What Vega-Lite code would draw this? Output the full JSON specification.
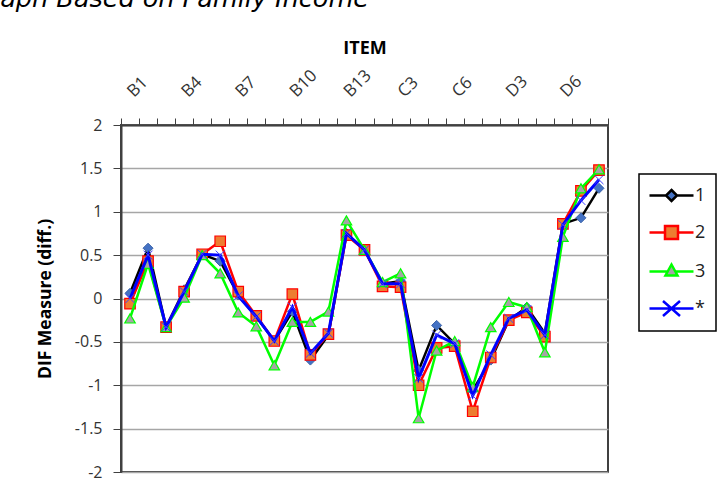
{
  "$schema": "https://vega.github.io/schema/vega-lite/v6.json",
  "autosize": {"type": "none"},
  "padding": {"left": 121, "top": 125, "right": 110, "bottom": 16},
  "width": 487,
  "height": 347,
  "background": "white",
  "title": {"text": "Graph Based on Family Income", "anchor": "start", "frame": "group", "font": "DejaVu Sans", "fontStyle": "italic", "fontWeight": "normal", "fontSize": 25.5, "color": "#000000", "dx": -151, "dy": -27, "offset": 0},
  "config": {
    "font": "Open Sans",
    "view": {"stroke": "#404040", "strokeWidth": 2},
    "axis": {"labelColor": "#333333", "titleColor": "#000000", "domainColor": "#404040", "domainWidth": 2, "tickColor": "#404040", "tickWidth": 1}
  },
  "data": {"values": [
    {"item":"B1","series":"1","value":0.06},{"item":"B2","series":"1","value":0.58},{"item":"B3","series":"1","value":-0.33},{"item":"B4","series":"1","value":0.1},{"item":"B5","series":"1","value":0.51},{"item":"B6","series":"1","value":0.43},{"item":"B7","series":"1","value":0.04},{"item":"B8","series":"1","value":-0.21},{"item":"B9","series":"1","value":-0.49},{"item":"B10","series":"1","value":-0.15},{"item":"B11","series":"1","value":-0.71},{"item":"B12","series":"1","value":-0.42},{"item":"B13","series":"1","value":0.75},{"item":"C1","series":"1","value":0.56},{"item":"C2","series":"1","value":0.17},{"item":"C3","series":"1","value":0.2},{"item":"C4","series":"1","value":-0.83},{"item":"C5","series":"1","value":-0.31},{"item":"C6","series":"1","value":-0.52},{"item":"D1","series":"1","value":-1.06},{"item":"D2","series":"1","value":-0.71},{"item":"D3","series":"1","value":-0.25},{"item":"D4","series":"1","value":-0.1},{"item":"D5","series":"1","value":-0.4},{"item":"D6","series":"1","value":0.86},{"item":"D7","series":"1","value":0.93},{"item":"D8","series":"1","value":1.27},
    {"item":"B1","series":"2","value":-0.06},{"item":"B2","series":"2","value":0.43},{"item":"B3","series":"2","value":-0.33},{"item":"B4","series":"2","value":0.08},{"item":"B5","series":"2","value":0.51},{"item":"B6","series":"2","value":0.66},{"item":"B7","series":"2","value":0.08},{"item":"B8","series":"2","value":-0.2},{"item":"B9","series":"2","value":-0.49},{"item":"B10","series":"2","value":0.05},{"item":"B11","series":"2","value":-0.65},{"item":"B12","series":"2","value":-0.41},{"item":"B13","series":"2","value":0.73},{"item":"C1","series":"2","value":0.56},{"item":"C2","series":"2","value":0.14},{"item":"C3","series":"2","value":0.13},{"item":"C4","series":"2","value":-1.0},{"item":"C5","series":"2","value":-0.57},{"item":"C6","series":"2","value":-0.55},{"item":"D1","series":"2","value":-1.3},{"item":"D2","series":"2","value":-0.68},{"item":"D3","series":"2","value":-0.25},{"item":"D4","series":"2","value":-0.16},{"item":"D5","series":"2","value":-0.44},{"item":"D6","series":"2","value":0.86},{"item":"D7","series":"2","value":1.24},{"item":"D8","series":"2","value":1.48},
    {"item":"B1","series":"3","value":-0.23},{"item":"B2","series":"3","value":0.4},{"item":"B3","series":"3","value":-0.33},{"item":"B4","series":"3","value":0.01},{"item":"B5","series":"3","value":0.5},{"item":"B6","series":"3","value":0.29},{"item":"B7","series":"3","value":-0.16},{"item":"B8","series":"3","value":-0.32},{"item":"B9","series":"3","value":-0.77},{"item":"B10","series":"3","value":-0.27},{"item":"B11","series":"3","value":-0.27},{"item":"B12","series":"3","value":-0.15},{"item":"B13","series":"3","value":0.9},{"item":"C1","series":"3","value":0.56},{"item":"C2","series":"3","value":0.19},{"item":"C3","series":"3","value":0.29},{"item":"C4","series":"3","value":-1.38},{"item":"C5","series":"3","value":-0.6},{"item":"C6","series":"3","value":-0.49},{"item":"D1","series":"3","value":-1.02},{"item":"D2","series":"3","value":-0.33},{"item":"D3","series":"3","value":-0.04},{"item":"D4","series":"3","value":-0.1},{"item":"D5","series":"3","value":-0.62},{"item":"D6","series":"3","value":0.71},{"item":"D7","series":"3","value":1.27},{"item":"D8","series":"3","value":1.49},
    {"item":"B1","series":"*","value":0.0},{"item":"B2","series":"*","value":0.5},{"item":"B3","series":"*","value":-0.33},{"item":"B4","series":"*","value":0.08},{"item":"B5","series":"*","value":0.51},{"item":"B6","series":"*","value":0.5},{"item":"B7","series":"*","value":0.03},{"item":"B8","series":"*","value":-0.21},{"item":"B9","series":"*","value":-0.49},{"item":"B10","series":"*","value":-0.1},{"item":"B11","series":"*","value":-0.63},{"item":"B12","series":"*","value":-0.4},{"item":"B13","series":"*","value":0.75},{"item":"C1","series":"*","value":0.56},{"item":"C2","series":"*","value":0.17},{"item":"C3","series":"*","value":0.17},{"item":"C4","series":"*","value":-0.92},{"item":"C5","series":"*","value":-0.42},{"item":"C6","series":"*","value":-0.52},{"item":"D1","series":"*","value":-1.12},{"item":"D2","series":"*","value":-0.65},{"item":"D3","series":"*","value":-0.23},{"item":"D4","series":"*","value":-0.13},{"item":"D5","series":"*","value":-0.42},{"item":"D6","series":"*","value":0.85},{"item":"D7","series":"*","value":1.13},{"item":"D8","series":"*","value":1.37}
  ]},
  "encoding": {
    "x": {"field": "item", "type": "nominal",
      "scale": {"type": "band", "paddingInner": 0, "paddingOuter": 0, "domain": ["B1","B2","B3","B4","B5","B6","B7","B8","B9","B10","B11","B12","B13","C1","C2","C3","C4","C5","C6","D1","D2","D3","D4","D5","D6","D7","D8"]},
      "axis": {"orient": "top", "title": "ITEM", "titleFontSize": 18, "titleFontWeight": "bold", "titlePadding": 9, "labelAngle": -45, "labelAlign": "left", "labelBaseline": "middle", "labelFontSize": 17, "labelPadding": 24, "labelOverlap": false, "tickBand": "extent", "tickSize": 7, "grid": false,
        "labelExpr": "indexof(['B1','B4','B7','B10','B13','C3','C6','D3','D6'], datum.value) >= 0 ? datum.value : ''"}
    },
    "y": {"field": "value", "type": "quantitative",
      "scale": {"domain": [-2, 2], "nice": false},
      "axis": {"title": "DIF Measure (diff.)", "titleFontSize": 17.5, "titleFontWeight": "bold", "titlePadding": 20, "labelFontSize": 16, "labelPadding": 11, "tickSize": 8, "values": [-2, -1.5, -1, -0.5, 0, 0.5, 1, 1.5, 2], "labelExpr": "'' + datum.value", "grid": true, "gridColor": "#A6A6A6", "gridWidth": 1.5}
    }
  },
  "layer": [
    {"transform": [{"filter": "datum.series === '1'"}], "mark": {"type": "line", "strokeWidth": 2.5},
      "encoding": {"stroke": {"field": "series", "type": "nominal",
        "scale": {"domain": ["1","2","3","*"], "range": ["#000000","#FF0000","#00FF00","#0000FF"]},
        "legend": {"orient": "none", "legendX": 518, "legendY": 49, "title": null, "padding": 10, "strokeColor": "#000000",
          "symbolSize": 400, "symbolOffset": 11, "symbolStrokeWidth": 2.5, "rowPadding": 15, "labelFontSize": 18, "labelColor": "#222222", "labelOffset": 12,
          "encode": {
            "legend": {"update": {"strokeWidth": {"value": 1.5}}},
            "symbols": {"update": {
              "shape": {"signal": "datum.value === '1' ? 'M-2.2,0H-0.55M0.55,0H2.2M0,-0.55L0.55,0L0,0.55L-0.55,0Z' : datum.value === '2' ? 'M-2.2,0H-0.65M0.65,0H2.2M-0.65,-0.65H0.65V0.65H-0.65Z' : datum.value === '3' ? 'M-2.2,0H-0.38M0.38,0H2.2M0,-0.7L0.6,0.4H-0.6Z' : 'M-2.2,0H2.2M-0.85,-0.75L0.85,0.75M-0.85,0.75L0.85,-0.75'"},
              "fill": {"signal": "datum.value === '1' ? '#4472C4' : datum.value === '2' ? '#ED7D31' : datum.value === '3' ? '#A5A5A5' : 'transparent'"},
              "opacity": {"value": 1}
            }}
          }
        }}}
    },
    {"transform": [{"filter": "datum.series === '1'"}], "mark": {"type": "point", "shape": "diamond", "filled": true, "fill": "#4472C4", "stroke": "#3A62A8", "strokeWidth": 1, "size": 100, "opacity": 1}},
    {"transform": [{"filter": "datum.series === '2'"}], "mark": {"type": "line", "strokeWidth": 2.5},
      "encoding": {"stroke": {"field": "series", "type": "nominal"}}},
    {"transform": [{"filter": "datum.series === '2'"}], "mark": {"type": "point", "shape": "square", "filled": true, "fill": "#ED7D31", "stroke": "#FF0000", "strokeWidth": 1.2, "size": 110, "opacity": 1}},
    {"transform": [{"filter": "datum.series === '3'"}], "mark": {"type": "line", "strokeWidth": 2.5},
      "encoding": {"stroke": {"field": "series", "type": "nominal"}}},
    {"transform": [{"filter": "datum.series === '3'"}], "mark": {"type": "point", "shape": "triangle-up", "filled": true, "fill": "#A5A5A5", "stroke": "#00FF00", "strokeWidth": 1.2, "size": 110, "opacity": 1}},
    {"transform": [{"filter": "datum.series === '*'"}], "mark": {"type": "line", "strokeWidth": 3},
      "encoding": {"stroke": {"field": "series", "type": "nominal"}}},
    {"transform": [{"filter": "datum.series === '*'"}], "mark": {"type": "point", "shape": "M-1,-1L1,1M-1,1L1,-1", "filled": false, "stroke": "#4040FF", "strokeWidth": 1, "size": 80, "opacity": 1}}
  ]
}
